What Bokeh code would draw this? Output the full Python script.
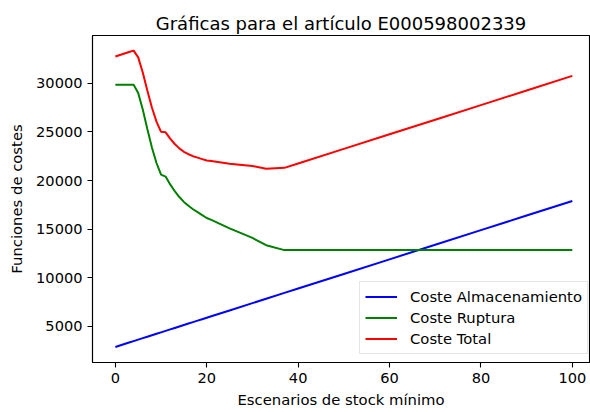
from bokeh.plotting import figure
from bokeh.models import FixedTicker, Legend, LegendItem, Range1d
from bokeh.embed import file_html
from bokeh.resources import INLINE

# Scenario (minimum stock) values
escenarios = [0, 1, 2, 3, 4, 5, 6, 7, 8, 9, 10, 11, 12, 13, 14, 15, 16, 17, 18, 19, 20, 21,
              25, 30, 33, 37, 40, 50, 60, 70, 80, 90, 100]
coste_almacenamiento = [2900, 3050, 3200, 3350, 3500, 3650, 3800, 3950, 4100, 4250, 4400, 4550,
                        4700, 4850, 5000, 5150, 5300, 5450, 5600, 5750, 5900, 6050,
                        6650, 7400, 7850, 8450, 8900, 10400, 11900, 13400, 14900, 16400, 17900]
coste_ruptura = [29850, 29850, 29850, 29850, 29850, 29000, 27300, 25300, 23400, 21800, 20600, 20400,
                 19600, 18900, 18300, 17800, 17400, 17050, 16750, 16450, 16150, 15950,
                 15080, 14100, 13350, 12850, 12850, 12850, 12850, 12850, 12850, 12850, 12850]
coste_total = [32750, 32900, 33050, 33200, 33350, 32650, 31100, 29250, 27500, 26050, 25000, 24950,
               24300, 23750, 23300, 22950, 22700, 22500, 22350, 22200, 22050, 22000,
               21730, 21500, 21200, 21300, 21750, 23250, 24750, 26250, 27750, 29250, 30750]

x_ticks = [0, 20, 40, 60, 80, 100]
y_ticks = [5000, 10000, 15000, 20000, 25000, 30000]

FONT = "DejaVu Sans"
TXT = "14.8px"

p = figure(width=590, height=412, output_backend="svg", toolbar_location=None,
           x_range=Range1d(-5, 103.76), y_range=Range1d(1300, 34900),
           min_border_left=92, min_border_right=1, min_border_top=35, min_border_bottom=50,
           title="Gráficas para el artículo E000598002339")

p.title.align = "center"
p.title.text_font = FONT
p.title.text_font_size = "18px"
p.title.text_font_style = "normal"
p.title.text_color = "#000000"
p.title.standoff = 4

p.grid.visible = False
p.outline_line_color = "#000000"
p.outline_line_width = 1.1
p.outline_line_alpha = 1.0
p.background_fill_color = "white"
p.border_fill_color = "white"

for ax in (p.xaxis[0], p.yaxis[0]):
    ax.major_label_text_font = FONT
    ax.major_label_text_font_size = "14.6px"
    ax.major_label_text_color = "#000000"
    ax.axis_label_text_font = FONT
    ax.axis_label_text_font_size = TXT
    ax.axis_label_text_font_style = "normal"
    ax.axis_label_text_color = "#000000"
    ax.major_tick_out = 5
    ax.major_tick_in = 0
    ax.minor_tick_line_color = None
    ax.axis_line_color = "#000000"
    ax.axis_line_width = 1.1
    ax.major_tick_line_width = 1.1

p.xaxis.ticker = FixedTicker(ticks=x_ticks)
p.yaxis.ticker = FixedTicker(ticks=y_ticks)
p.xaxis.axis_label = "Escenarios de stock mínimo"
p.yaxis.axis_label = "Funciones de costes"
p.xaxis.major_label_standoff = 5
p.xaxis.axis_label_standoff = 5
p.yaxis.major_label_standoff = 5
p.yaxis.axis_label_standoff = 8

r1 = p.line(escenarios, coste_almacenamiento, line_color="#0000ff", line_width=2)
r2 = p.line(escenarios, coste_ruptura, line_color="#008000", line_width=2)
r3 = p.line(escenarios, coste_total, line_color="#ff0000", line_width=2)

legend = Legend(items=[LegendItem(label="Coste Almacenamiento", renderers=[r1]),
                       LegendItem(label="Coste Ruptura", renderers=[r2]),
                       LegendItem(label="Coste Total", renderers=[r3])],
                location=(267, 8))
legend.label_text_font = FONT
legend.label_text_font_size = TXT
legend.label_text_color = "#000000"
legend.glyph_width = 32
legend.glyph_height = 19
legend.label_height = 19
legend.spacing = 2
legend.padding = 5
legend.label_standoff = 13
legend.margin = 0
legend.border_line_color = "#cccccc"
legend.border_line_width = 1
legend.background_fill_alpha = 0.8
p.add_layout(legend)

open("out.html", "w").write(file_html(p, INLINE))
